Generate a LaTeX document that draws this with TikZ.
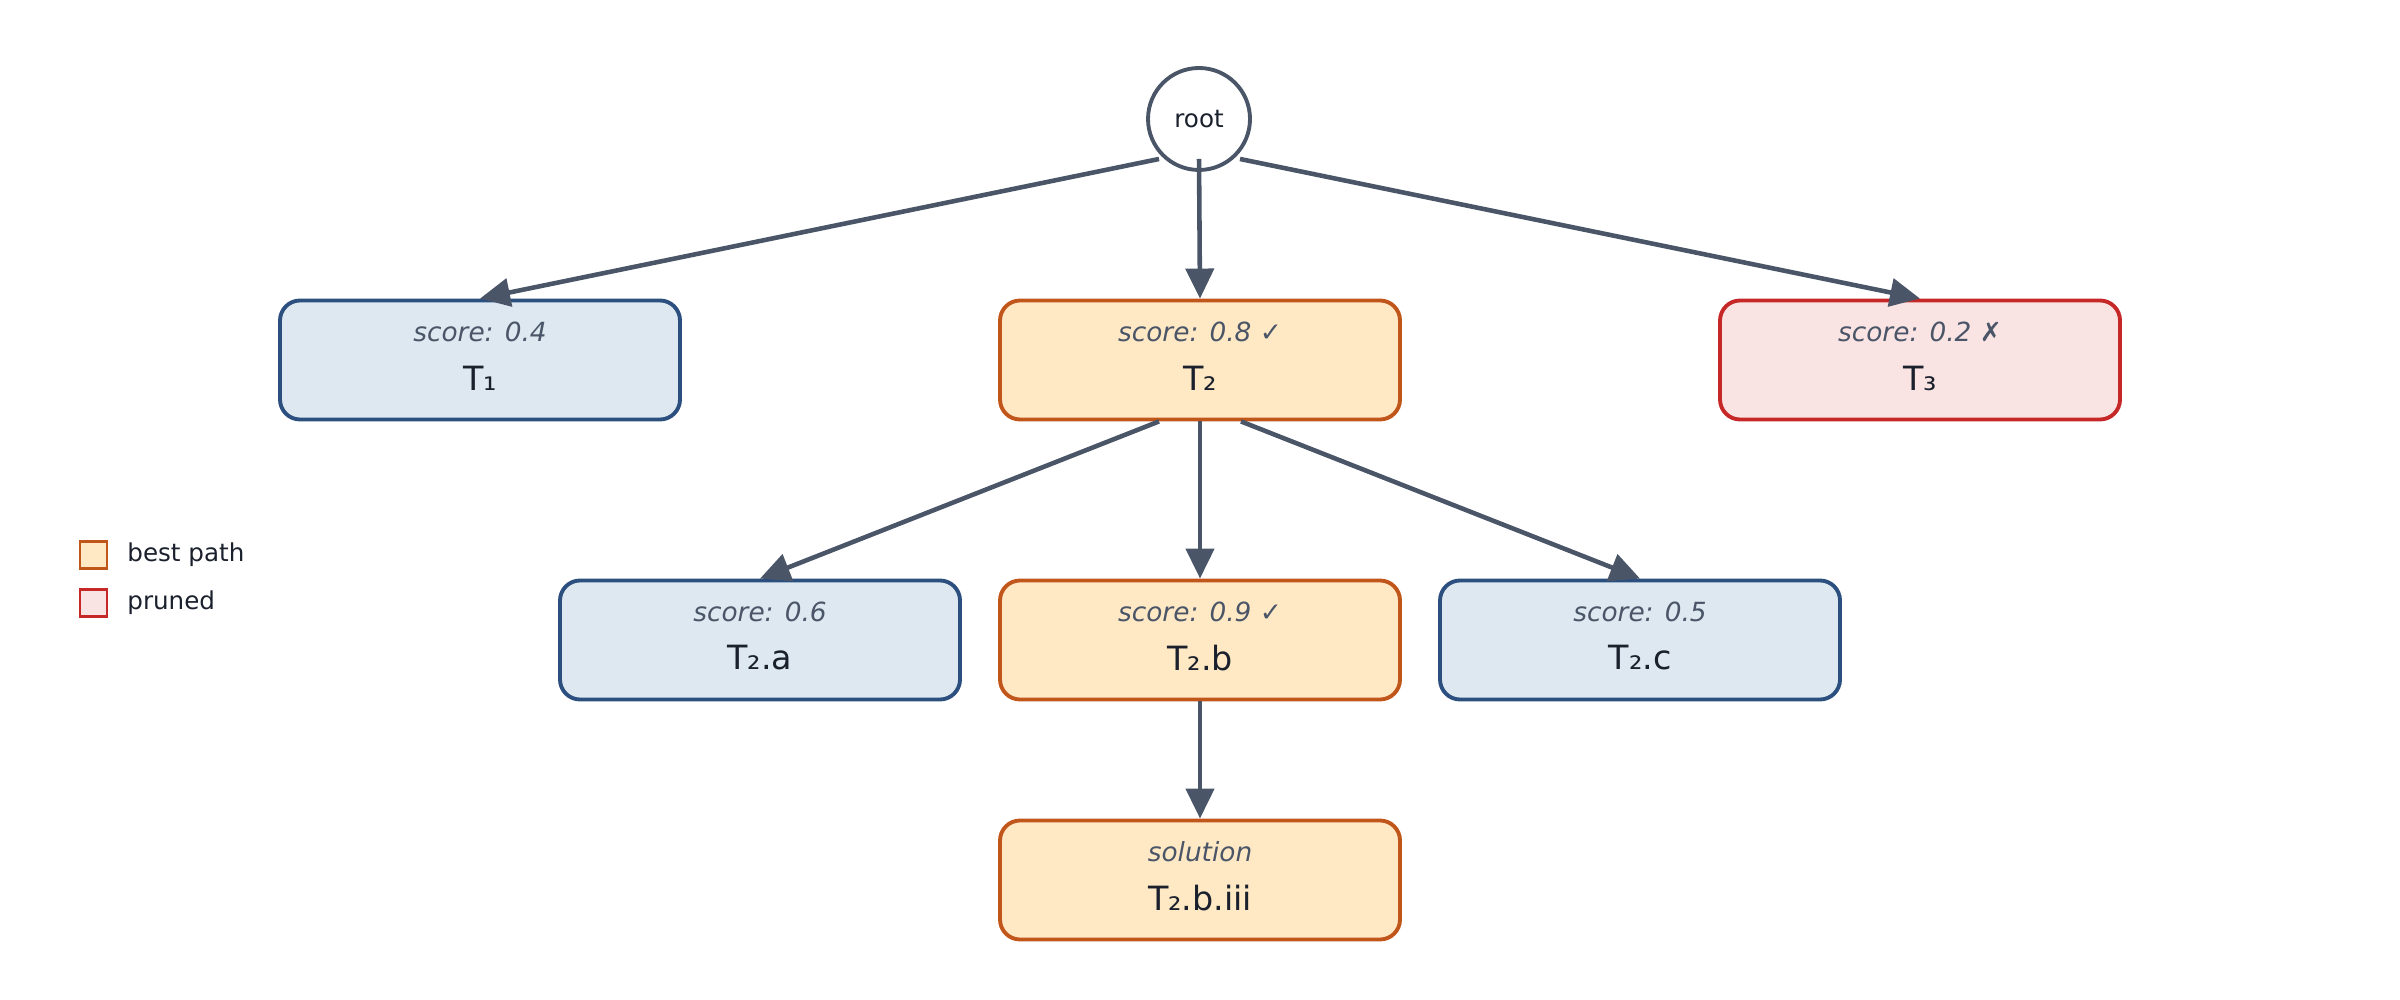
\documentclass[tikz,border=0pt]{standalone}
\usepackage{fontspec}
\setmainfont{DejaVu Sans}
\usetikzlibrary{arrows.meta}
\definecolor{bluefill}{HTML}{DEE8F0}\definecolor{blueline}{HTML}{2B4F7E}
\definecolor{orfill}{HTML}{FFE8C4}\definecolor{orline}{HTML}{C0561A}
\definecolor{redfill}{HTML}{FAE3E3}\definecolor{redline}{HTML}{C62828}
\definecolor{edge}{HTML}{4A5568}\definecolor{txt}{HTML}{1A202C}\definecolor{sub}{HTML}{4A5568}
\begin{document}
\begin{tikzpicture}[x=1cm,y=-1cm,
 box/.style={rounded corners=0.2cm,line width=1.1pt,minimum width=4cm,minimum height=1.19cm,align=center,inner sep=0pt},
 blue/.style={box,fill=bluefill,draw=blueline},
 orng/.style={box,fill=orfill,draw=orline},
 red/.style={box,fill=redfill,draw=redline},
 arr/.style={draw=edge,line width=1.3pt,-{Triangle[length=0.3cm,width=0.28cm]}},
 lab/.style={font=\fontsize{9.5}{11}\selectfont,text=txt},
 sc/.style={font=\fontsize{7.5}{9}\selectfont\itshape,text=sub}]
\useasboundingbox (0,0) rectangle (24,10);
\newcommand{\bx}[5]{\node[#1] (#2) at (#3) {}; \node[lab] at ([yshift=-0.18cm]#2.center) {#4}; \node[sc] at ([yshift=0.28cm]#2.center) {#5};}
\node[circle,draw=edge,line width=1.1pt,fill=white,minimum size=1.02cm,inner sep=0pt,font=\fontsize{7}{8}\selectfont,text=txt] (root) at (11.99,1.19) {root};
\bx{blue}{t1}{4.8,3.6}{T₁}{score: 0.4}
\bx{orng}{t2}{12,3.6}{T₂}{score: 0.8 ✓}
\bx{red}{t3}{19.2,3.6}{T₃}{score: 0.2 ✗}
\bx{blue}{t2a}{7.6,6.4}{T₂.a}{score: 0.6}
\bx{orng}{t2b}{12,6.4}{T₂.b}{score: 0.9 ✓}
\bx{blue}{t2c}{16.4,6.4}{T₂.c}{score: 0.5}
\bx{orng}{t2bi}{12,8.8}{T₂.b.iii}{solution}
\coordinate (r1) at ([shift={(-0.4,0.4)}]root.center);
\coordinate (r2) at ([shift={(0,0.4)}]root.center);
\coordinate (r3) at ([shift={(0.41,0.4)}]root.center);
\draw[arr] (r1) -- (t1.north);
\draw[arr] (r2) -- (t2.north);
\draw[arr] (r3) -- (t3.north);
\draw[arr] ([xshift=-0.41cm]t2.south) -- (t2a.north);
\draw[arr] (t2.south) -- (t2b.north);
\draw[arr] ([xshift=0.41cm]t2.south) -- (t2c.north);
\draw[arr] (t2b.south) -- (t2bi.north);
\node[draw=orline,fill=orfill,minimum size=0.27cm,inner sep=0pt,line width=0.6pt] (l1) at (0.935,5.55) {};
\node[anchor=west,font=\fontsize{7}{8}\selectfont,text=txt] at (1.15,5.55) {best path};
\node[draw=redline,fill=redfill,minimum size=0.27cm,inner sep=0pt,line width=0.6pt] (l2) at (0.935,6.03) {};
\node[anchor=west,font=\fontsize{7}{8}\selectfont,text=txt] at (1.15,6.03) {pruned};
\end{tikzpicture}
\end{document}
